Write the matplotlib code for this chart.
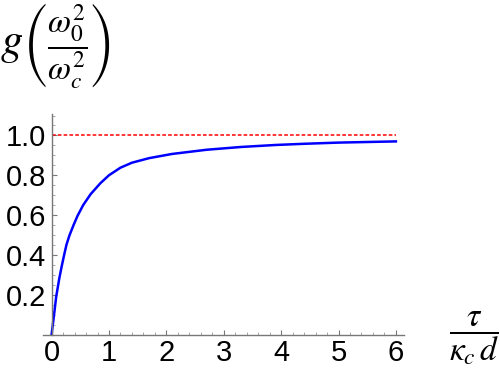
import matplotlib
matplotlib.use("Agg")
import matplotlib.pyplot as plt
from matplotlib.ticker import MultipleLocator

# Data
x_vals = [0.0, 0.04, 0.08, 0.134, 0.174, 0.22, 0.26, 0.31, 0.38, 0.45,
          0.55, 0.68, 0.85, 1.0, 1.2, 1.4, 1.7, 2.1, 2.7, 3.3,
          3.9, 4.4, 5.0, 6.0]
g_vals = [0.0, 0.093, 0.19, 0.282, 0.34, 0.402, 0.452, 0.497, 0.548, 0.595,
          0.650, 0.705, 0.760, 0.800, 0.838, 0.863, 0.886, 0.907, 0.928, 0.942,
          0.952, 0.958, 0.964, 0.970]
ref_x = [0, 6]
ref_y = [1.0, 1.0]
xticks = [0, 1, 2, 3, 4, 5, 6]
yticks = [0.2, 0.4, 0.6, 0.8, 1.0]
ytick_labels = ["0.2", "0.4", "0.6", "0.8", "1.0"]

plt.rcParams['font.family'] = ['Liberation Sans', 'DejaVu Sans']
plt.rcParams['mathtext.fontset'] = 'stix'

fig = plt.figure(figsize=(5.0, 3.72), dpi=100)
ax = fig.add_axes([0.086, 0.1008, 0.723, 0.594])

ax.plot(x_vals, g_vals, color=(0, 0, 1), lw=1.8, solid_joinstyle='round')
ax.plot(ref_x, ref_y, color=(1, 0, 0), lw=1.1, dashes=(2.4, 1.4))

ax.set_xlim(-0.15, 6.15)
ax.set_ylim(0, 1.11)

for s in ['top', 'right']:
    ax.spines[s].set_visible(False)
ax.spines['left'].set_position(('data', 0))
ax.spines['bottom'].set_position(('data', 0))
for s in ['left', 'bottom']:
    ax.spines[s].set_color('#777777')
    ax.spines[s].set_linewidth(1.0)

ax.set_xticks(xticks)
ax.set_xticklabels([str(t) for t in xticks])
ax.set_yticks(yticks)
ax.set_yticklabels(ytick_labels)
ax.xaxis.set_minor_locator(MultipleLocator(0.2))
ax.yaxis.set_minor_locator(MultipleLocator(0.05))
ax.tick_params(which='major', direction='in', length=3.5, width=0.8, color='#777777',
               labelsize=21, pad=3)
ax.tick_params(which='minor', direction='in', length=2, width=0.6, color='#999999')
ax.tick_params(axis='y', which='major', pad=4)

fig.text(0.0, 1 - 54 / 372, r'$g$', fontsize=32, ha='left', va='baseline')
fig.text(22 / 500, 1 - 45 / 372, r'$\left(\dfrac{\omega_0^2}{\omega_c^2}\right)$',
         fontsize=24, ha='left', va='center')
fig.text(474 / 500, 1 - 338 / 372, r'$\dfrac{\tau}{\kappa_c\,d}$',
         fontsize=24, ha='center', va='center')

fig.savefig('out.png', dpi=100)
